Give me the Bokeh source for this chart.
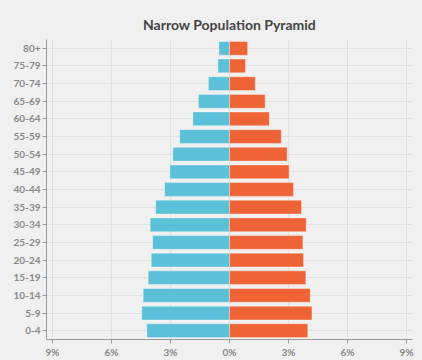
from bokeh.plotting import figure
from bokeh.models import FactorRange, Range1d, FixedTicker, ColumnDataSource
from bokeh.embed import file_html
from bokeh.resources import INLINE

age_groups = ["0-4", "5-9", "10-14", "15-19", "20-24", "25-29", "30-34", "35-39",
              "40-44", "45-49", "50-54", "55-59", "60-64", "65-69", "70-74", "75-79", "80+"]
male = [4.20, 4.46, 4.39, 4.13, 3.98, 3.91, 4.03, 3.75, 3.30, 3.03, 2.88, 2.53,
        1.86, 1.58, 1.07, 0.59, 0.54]
female = [3.98, 4.19, 4.10, 3.88, 3.76, 3.73, 3.90, 3.66, 3.25, 3.03, 2.93, 2.63,
          2.02, 1.81, 1.31, 0.81, 0.92]
x_ticks = [-9, -6, -3, 0, 3, 6, 9]
x_tick_labels = ["9%", "6%", "3%", "0%", "3%", "6%", "9%"]

src = ColumnDataSource(dict(age=age_groups, male=[-m for m in male], female=female))

BG = "#f0f0f0"
p = figure(width=422, height=360, output_backend="svg", toolbar_location=None,
           y_range=FactorRange(factors=age_groups, range_padding=0),
           x_range=Range1d(-9.3, 9.3),
           title="Narrow Population Pyramid",
           background_fill_color=BG, border_fill_color=BG,
           min_border_left=46, min_border_right=10, min_border_top=39, min_border_bottom=20)
p.outline_line_color = None

p.hbar(y="age", left=0, right="male", height=0.78, source=src,
       fill_color="#5bc0d8", line_color="#ffffff", line_alpha=0.35, line_width=1)
p.hbar(y="age", left=0, right="female", height=0.78, source=src,
       fill_color="#ef6437", line_color="#ffffff", line_alpha=0.35, line_width=1)

p.title.align = "center"
p.title.text_font = "Lato"
p.title.text_font_size = "14px"
p.title.text_font_style = "bold"
p.title.text_color = "#444444"
p.title.standoff = 13

p.xaxis.ticker = FixedTicker(ticks=x_ticks)
p.xaxis.major_label_overrides = {t: l for t, l in zip(x_ticks, x_tick_labels)}
for ax in (p.xaxis, p.yaxis):
    ax.axis_line_color = "#999999"
    ax.major_tick_line_color = "#999999"
    ax.major_tick_out = 4
    ax.major_tick_in = 0
    ax.minor_tick_line_color = None
    ax.major_label_text_font = "Lato"
    ax.major_label_text_font_size = "10px"
    ax.major_label_text_font_style = "bold"
    ax.major_label_text_color = "#888888"
    ax.major_label_standoff = 2

p.xgrid.grid_line_color = "#e0e0e0"
p.ygrid.grid_line_color = "#e0e0e0"

html = file_html(p, INLINE)
html = html.replace("<head>", "<head><style>body{background:#f0f0f0;}</style>", 1)
open("out.html", "w").write(html)
